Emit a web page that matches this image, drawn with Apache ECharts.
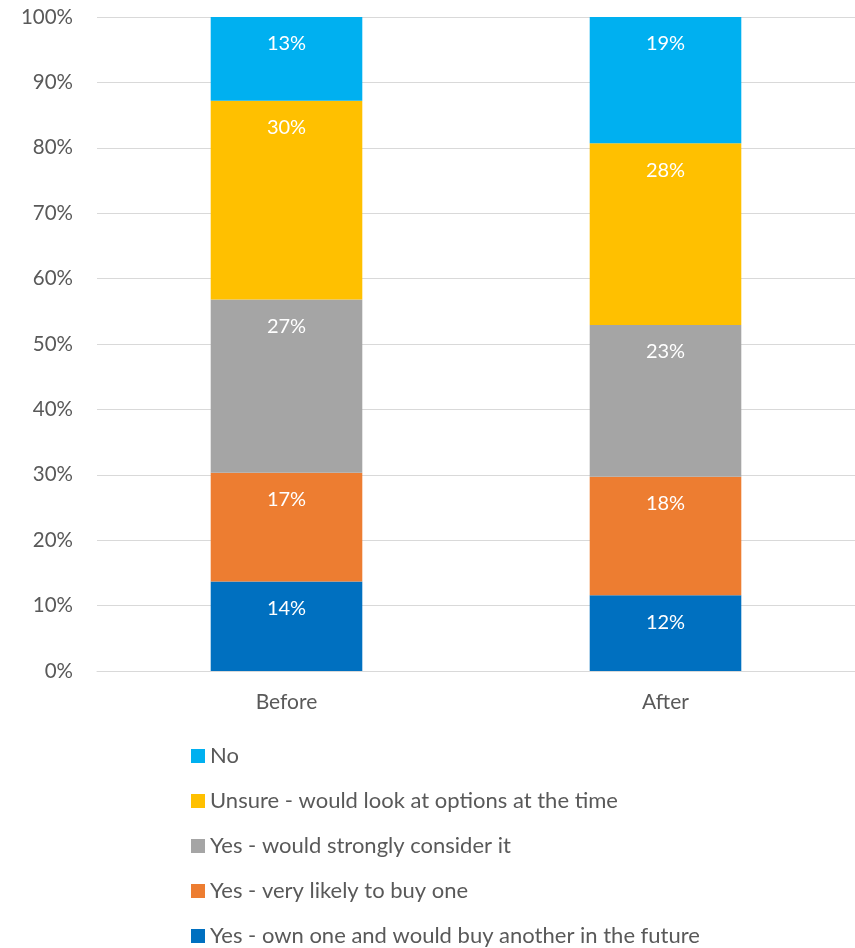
<!DOCTYPE html>
<html>
<head>
<meta charset="utf-8">
<script src="https://cdn.jsdelivr.net/npm/echarts@6/dist/echarts.min.js"></script>
<style>
html,body{margin:0;padding:0;background:#fff;}
#chart{width:855px;height:948px;}
</style>
</head>
<body>
<div id="chart"></div>
<script>
const categories = ['Before', 'After'];
const seriesNames = [
  'Yes - own one and would buy another in the future',
  'Yes - very likely to buy one',
  'Yes - would strongly consider it',
  'Unsure - would look at options at the time',
  'No'
];
const ownOne = [13.7, 11.6];
const veryLikely = [16.6, 18.1];
const stronglyConsider = [26.5, 23.2];
const unsure = [30.4, 27.8];
const no = [12.8, 19.3];
const yTicks = [0, 10, 20, 30, 40, 50, 60, 70, 80, 90, 100];
const colors = ['#0070C0', '#ED7D31', '#A5A5A5', '#FFC000', '#00B0F0'];

const values = [ownOne, veryLikely, stronglyConsider, unsure, no];
const FONT = 'Lato';

const chart = echarts.init(document.getElementById('chart'), null, {renderer: 'canvas'});
chart.setOption({
  animation: false,
  backgroundColor: '#fff',
  textStyle: {fontFamily: FONT},
  grid: {left: 97, right: 0, top: 17, bottom: 277},
  legend: {
    orient: 'vertical',
    left: 191,
    top: 745,
    height: 220,
    padding: 0,
    itemWidth: 14,
    itemHeight: 14,
    itemGap: 23,
    icon: 'rect',
    data: seriesNames.slice().reverse(),
    textStyle: {fontFamily: FONT, fontSize: 22, color: '#595959'}
  },
  xAxis: {
    type: 'category',
    data: categories,
    axisLine: {show: true, lineStyle: {color: '#d9d9d9', width: 1}},
    axisTick: {show: false},
    axisLabel: {fontFamily: FONT, fontSize: 21, color: '#595959', margin: 21}
  },
  yAxis: {
    type: 'value',
    min: yTicks[0],
    max: yTicks[yTicks.length - 1],
    interval: 10,
    axisLine: {show: false},
    axisTick: {show: false},
    splitLine: {lineStyle: {color: '#d9d9d9', width: 1}},
    axisLabel: {fontFamily: FONT, fontSize: 20.5, color: '#595959', margin: 24,
      formatter: v => v + '%'}
  },
  series: seriesNames.map((name, i) => ({
    name: name,
    type: 'bar',
    stack: 'total',
    barWidth: '40%',
    data: values[i],
    itemStyle: {color: colors[i]},
    label: {
      show: true,
      position: 'insideTop',
      distance: 17,
      color: '#fff',
      fontFamily: FONT,
      fontSize: 20,
      formatter: p => Math.round(p.value) + '%'
    }
  }))
});
</script>
</body>
</html>
